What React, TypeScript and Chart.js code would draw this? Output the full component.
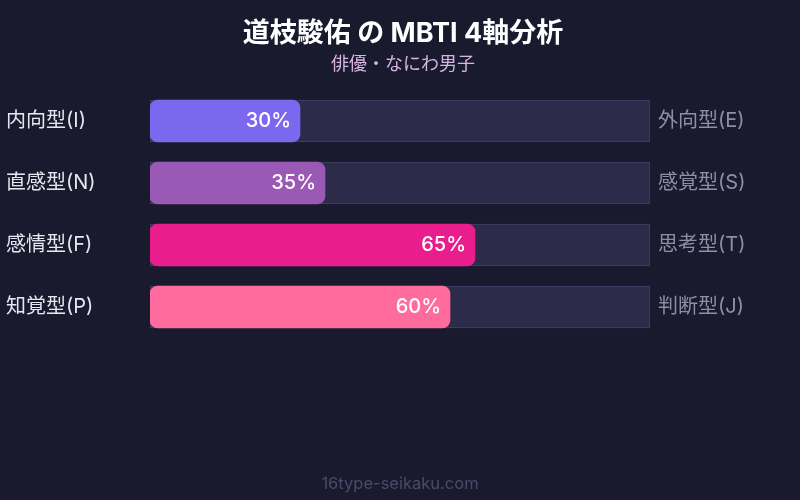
import { Chart, registerables } from 'chart.js'
import type { Plugin } from 'chart.js'
import { useEffect, useRef } from 'react'

Chart.register(...registerables)

const leftLabels = ['内向型(I)', '直感型(N)', '感情型(F)', '知覚型(P)']
const rightLabels = ['外向型(E)', '感覚型(S)', '思考型(T)', '判断型(J)']
const scores = [30, 35, 65, 60]
const trackValues = [100, 100, 100, 100]
const barColors = ['#7b68ee', '#9b59b6', '#e91e8c', '#ff6b9d']

const FONT = "Inter, 'Noto Sans CJK JP', 'Noto Sans', sans-serif"
const BG = '#1a1a2e'

const backgroundPlugin: Plugin<'bar'> = {
  id: 'bg',
  beforeDraw: (chart) => {
    const { ctx, width, height } = chart
    ctx.save()
    ctx.fillStyle = BG
    ctx.fillRect(0, 0, width, height)
    ctx.restore()
  },
}

const valueLabelPlugin: Plugin<'bar'> = {
  id: 'valueLabels',
  afterDatasetsDraw: (chart) => {
    const { ctx } = chart
    const meta = chart.getDatasetMeta(0)
    ctx.save()
    ctx.font = `500 20px ${FONT}`
    ctx.fillStyle = '#ffffff'
    ctx.textAlign = 'right'
    ctx.textBaseline = 'middle'
    meta.data.forEach((bar, i) => {
      ctx.fillText(`${scores[i]}%`, bar.x - 9, bar.y)
    })
    ctx.restore()
  },
}

const footerPlugin: Plugin<'bar'> = {
  id: 'footer',
  afterDraw: (chart) => {
    const { ctx, width } = chart
    ctx.save()
    ctx.font = `16.5px ${FONT}`
    ctx.fillStyle = '#4a4a6a'
    ctx.textAlign = 'center'
    ctx.textBaseline = 'middle'
    ctx.fillText('16type-seikaku.com', width / 2, 484)
    ctx.restore()
  },
}

export default function App() {
  const canvasRef = useRef<HTMLCanvasElement>(null)
  const chartRef = useRef<Chart<'bar'> | null>(null)

  useEffect(() => {
    if (!canvasRef.current) return
    chartRef.current?.destroy()
    chartRef.current = new Chart(canvasRef.current, {
      type: 'bar',
      data: {
        labels: leftLabels,
        datasets: [
          {
            label: 'score',
            data: scores,
            backgroundColor: barColors,
            borderWidth: 0,
            borderRadius: 8,
            borderSkipped: false,
            barThickness: 42,
            grouped: false,
            order: 1,
            yAxisID: 'y',
          },
          {
            label: 'track',
            data: trackValues,
            backgroundColor: '#2c2b4a',
            borderColor: '#41406a',
            borderWidth: 1,
            borderSkipped: false,
            barThickness: 42,
            grouped: false,
            order: 2,
            yAxisID: 'y',
          },
        ],
      },
      options: {
        indexAxis: 'y',
        animation: false,
        responsive: false,
        layout: { padding: { left: 6, right: 0, top: 0, bottom: 162 } },
        plugins: {
          legend: { display: false },
          tooltip: { enabled: false },
          title: {
            display: true,
            text: '道枝駿佑 の MBTI 4軸分析',
            color: '#ffffff',
            font: { family: FONT, size: 27, weight: 'bold', lineHeight: 1.2 },
            padding: { top: 18, bottom: 3 },
          },
          subtitle: {
            display: true,
            text: '俳優・なにわ男子',
            color: '#d8b4e2',
            font: { family: FONT, size: 18, lineHeight: 1.2 },
            padding: { top: 0, bottom: 15 },
          },
        },
        scales: {
          x: { display: false, min: 0, max: 100 },
          y: {
            type: 'category',
            position: 'left',
            offset: true,
            grid: { display: false },
            border: { display: false },
            ticks: {
              crossAlign: 'far',
              color: '#e6e6f0',
              font: { family: FONT, size: 20 },
            },
            afterFit: (scale) => {
              scale.width = 144
            },
          },
          y2: {
            type: 'category',
            position: 'right',
            labels: rightLabels,
            offset: true,
            grid: { display: false, drawTicks: false },
            border: { display: false },
            ticks: {
              crossAlign: 'near',
              padding: 8,
              color: '#8e8ea8',
              font: { family: FONT, size: 20 },
            },
            afterFit: (scale) => {
              scale.width = 150
            },
          },
        },
      },
      plugins: [backgroundPlugin, valueLabelPlugin, footerPlugin],
    })
    return () => chartRef.current?.destroy()
  }, [])

  return (
    <div style={{ position: 'fixed', top: 0, left: 0, width: 800, height: 500, background: BG }}>
      <canvas ref={canvasRef} width={800} height={500} style={{ display: 'block' }} />
    </div>
  )
}
